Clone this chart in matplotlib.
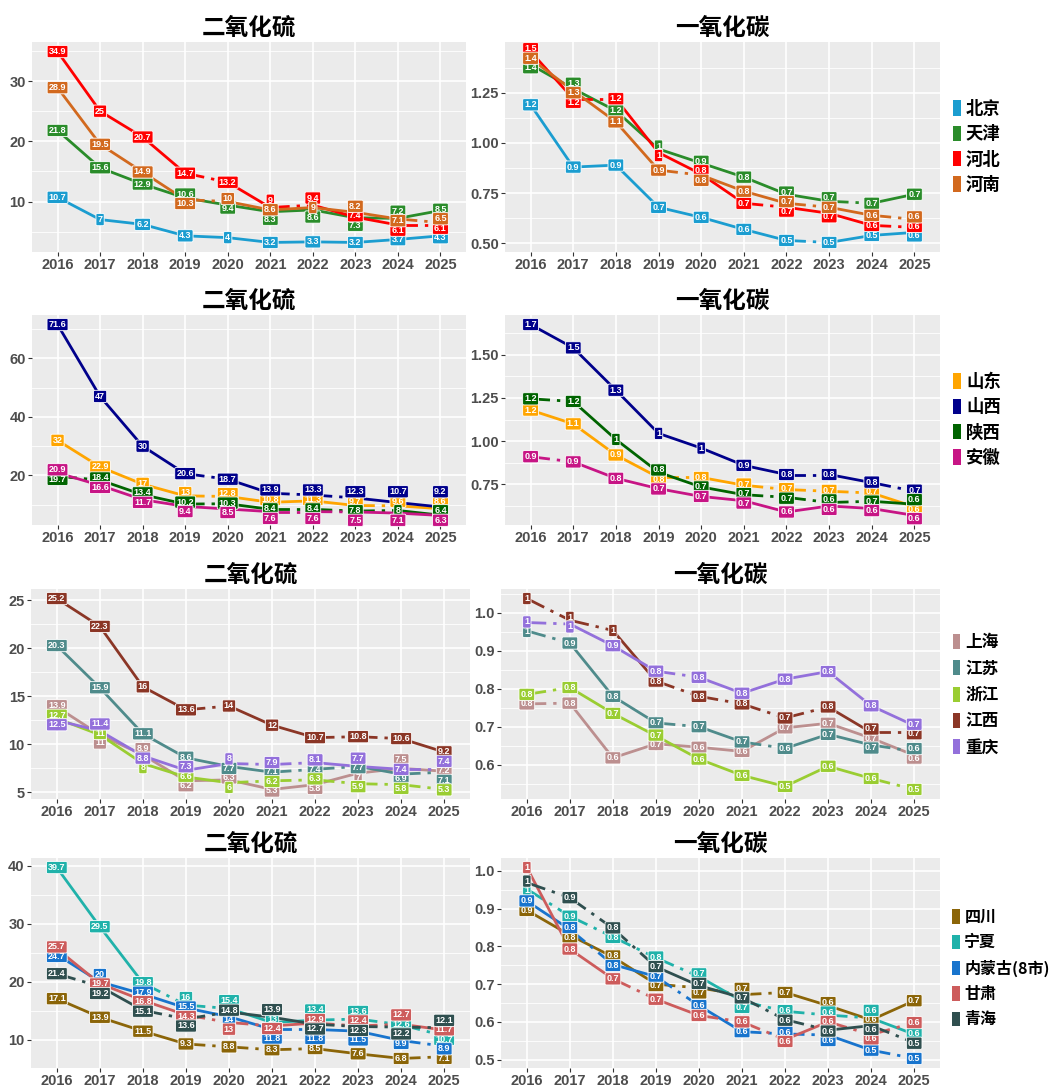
import matplotlib
matplotlib.use("Agg")
import matplotlib.pyplot as plt
from matplotlib.patches import Patch

plt.rcParams['font.family'] = ['Liberation Sans', 'Noto Sans CJK SC', 'DejaVu Sans']

years = list(range(2016, 2026))

# ---- row 1 ----
row1_names = ["北京", "天津", "河北", "河南"]
row1_colors = ["#1b9dd0", "#2a8c2a", "#ff0000", "#d2691e"]
row1_so2 = [
    [10.7, 7, 6.2, 4.3, 4, 3.2, 3.3, 3.2, 3.7, 4.3],
    [21.8, 15.6, 12.9, 10.6, 9.4, 8.3, 8.6, 7.3, 7.2, 8.5],
    [34.9, 25, 20.7, 14.7, 13.2, 9, 9.4, 7.4, 6.1, 6.1],
    [28.9, 19.5, 14.9, 10.3, 10, 8.6, 9, 8.2, 7.1, 6.5],
]
row1_co = [
    [1.19, 0.88, 0.89, 0.68, 0.63, 0.57, 0.515, 0.505, 0.54, 0.555],
    [1.39, 1.27, 1.16, 0.97, 0.90, 0.83, 0.745, 0.71, 0.70, 0.745],
    [1.455, 1.22, 1.22, 0.952, 0.845, 0.70, 0.68, 0.65, 0.59, 0.58],
    [1.42, 1.26, 1.105, 0.865, 0.84, 0.76, 0.70, 0.68, 0.64, 0.62],
]
row1_so2_dash = [[], [], [3, 5, 8], [3, 8]]
row1_co_dash = [[6], [7], [1, 5, 8], [3, 6, 8]]
row1_so2_ticks = [10, 20, 30]
row1_co_ticks = [0.50, 0.75, 1.00, 1.25]

# ---- row 2 ----
row2_names = ["山东", "山西", "陕西", "安徽"]
row2_colors = ["#ffa500", "#00008b", "#006400", "#c71585"]
row2_so2 = [
    [32, 22.9, 17, 13, 12.8, 10.8, 11.3, 9.7, 9.6, 8.6],
    [71.6, 47, 30, 20.6, 18.7, 13.9, 13.3, 12.3, 10.7, 9.2],
    [19.7, 18.4, 13.4, 10.2, 10.3, 8.4, 8.4, 7.8, 8, 6.4],
    [20.9, 16.6, 11.7, 9.4, 8.5, 7.6, 7.6, 7.5, 7.1, 6.3],
]
row2_co = [
    [1.18, 1.10, 0.92, 0.79, 0.79, 0.745, 0.72, 0.71, 0.70, 0.62],
    [1.675, 1.54, 1.295, 1.045, 0.96, 0.86, 0.807, 0.807, 0.76, 0.71],
    [1.245, 1.23, 1.01, 0.82, 0.735, 0.69, 0.675, 0.645, 0.652, 0.635],
    [0.91, 0.88, 0.785, 0.725, 0.68, 0.655, 0.59, 0.625, 0.61, 0.57],
]
row2_so2_dash = [[3, 7], [3, 5, 6], [0, 3, 5, 6, 7], [5, 6]]
row2_co_dash = [[3, 5, 6, 7], [6, 8], [0, 5, 6, 7], [0]]
row2_so2_ticks = [20, 40, 60]
row2_co_ticks = [0.75, 1.00, 1.25, 1.50]

# ---- row 3 ----
row3_names = ["上海", "江苏", "浙江", "江西", "重庆"]
row3_colors = ["#bc8f8f", "#4f8b8b", "#9acd32", "#8b3626", "#9370db"]
row3_so2 = [
    [13.9, 11, 8.9, 6.2, 6.3, 5.3, 5.8, 7, 7.5, 7.2],
    [20.3, 15.9, 11.1, 8.6, 7.7, 7.1, 7.4, 7.7, 6.9, 7.1],
    [12.7, 11, 8, 6.6, 6, 6.2, 6.3, 5.9, 5.8, 5.3],
    [25.2, 22.3, 16, 13.6, 14, 12, 10.7, 10.8, 10.6, 9.2],
    [12.5, 11.4, 8.8, 7.3, 8, 7.9, 8.1, 7.7, 7.4, 7.4],
]
row3_co = [
    [0.76, 0.762, 0.618, 0.655, 0.646, 0.635, 0.697, 0.709, 0.67, 0.625],
    [0.952, 0.92, 0.78, 0.71, 0.70, 0.66, 0.643, 0.68, 0.652, 0.635],
    [0.785, 0.803, 0.735, 0.676, 0.615, 0.572, 0.543, 0.596, 0.564, 0.535],
    [1.037, 0.98, 0.953, 0.82, 0.78, 0.76, 0.723, 0.752, 0.685, 0.685],
    [0.974, 0.97, 0.913, 0.846, 0.83, 0.788, 0.825, 0.845, 0.755, 0.703],
]
row3_so2_dash = [[], [5, 6, 8], [4, 5, 6, 7, 8], [3, 6, 7], [4, 5, 8]]
row3_co_dash = [[0], [0, 3, 5, 8], [0, 8], [0, 1, 3, 4, 5, 6, 8], [0, 3]]
row3_so2_ticks = [5, 10, 15, 20, 25]
row3_co_ticks = [0.6, 0.7, 0.8, 0.9, 1.0]

# ---- row 4 ----
row4_names = ["四川", "宁夏", "内蒙古(8市)", "甘肃", "青海"]
row4_colors = ["#8b6508", "#20b2aa", "#1874cd", "#cd5c5c", "#2f4f4f"]
row4_so2 = [
    [17.1, 13.9, 11.5, 9.3, 8.8, 8.3, 8.5, 7.6, 6.8, 7.1],
    [39.7, 29.5, 19.8, 16, 15.4, 13, 13.4, 13.6, 12.6, 10.7],
    [24.7, 20, 17.9, 15.5, 14, 11.8, 11.8, 11.5, 9.9, 8.9],
    [25.7, 19.7, 16.8, 14.3, 13, 12.4, 12.9, 12.4, 12.7, 11.7],
    [21.4, 19.2, 15.1, 13.6, 14.8, 13.9, 12.7, 12.3, 12.2, 12.1],
]
row4_co = [
    [0.896, 0.83, 0.772, 0.70, 0.69, 0.672, 0.678, 0.643, 0.605, 0.656],
    [0.952, 0.88, 0.825, 0.77, 0.72, 0.655, 0.628, 0.618, 0.61, 0.567],
    [0.92, 0.845, 0.752, 0.72, 0.643, 0.574, 0.568, 0.565, 0.525, 0.503],
    [1.009, 0.793, 0.714, 0.66, 0.617, 0.60, 0.553, 0.60, 0.566, 0.598],
    [0.969, 0.929, 0.848, 0.746, 0.696, 0.664, 0.606, 0.578, 0.59, 0.545],
]
row4_so2_dash = [[3, 4, 5, 8], [2, 3, 6, 7, 8], [5, 8], [3, 4, 6, 7], [0, 2, 3, 6, 7, 8]]
row4_co_dash = [[3, 4, 5], [0, 1, 2, 3, 5, 6, 7], [1, 3, 5, 6, 8], [2, 4, 5, 7, 8], [0, 1, 2, 5, 6, 8]]
row4_so2_ticks = [10, 20, 30, 40]
row4_co_ticks = [0.5, 0.6, 0.7, 0.8, 0.9, 1.0]

rows = [
    (row1_names, row1_colors, row1_so2, row1_co, row1_so2_dash, row1_co_dash, row1_so2_ticks, row1_co_ticks, "{:.2f}"),
    (row2_names, row2_colors, row2_so2, row2_co, row2_so2_dash, row2_co_dash, row2_so2_ticks, row2_co_ticks, "{:.2f}"),
    (row3_names, row3_colors, row3_so2, row3_co, row3_so2_dash, row3_co_dash, row3_so2_ticks, row3_co_ticks, "{:.1f}"),
    (row4_names, row4_colors, row4_so2, row4_co, row4_so2_dash, row4_co_dash, row4_so2_ticks, row4_co_ticks, "{:.1f}"),
]

W, H = 1058, 1090
row_tops = [42, 315, 589, 858]
row_h = 210
left_x = [(32, 466), (32, 466), (31, 470), (31, 470)]
right_x = [(505, 940), (505, 940), (501, 940), (501, 940)]
legend_cy = [147, 420, 695, 968]
legend_size = [12.5, 12.5, 12, 11.5]
legend_gap = [0.42, 0.42, 0.5, 0.58]

dash_style = (0, (7, 2.5, 1.2, 2.5))


def fmt_label(v):
    r = round(v, 1)
    if r == int(r):
        return str(int(r))
    return "{:.1f}".format(r)


def spread(vals, gap, lo, hi):
    order = sorted(range(len(vals)), key=lambda k: vals[k])
    pos = [vals[k] for k in order]
    for _ in range(60):
        for j in range(len(pos) - 1):
            d = pos[j + 1] - pos[j]
            if d < gap:
                s = (gap - d) / 2
                pos[j] -= s
                pos[j + 1] += s
        if pos[0] < lo:
            pos[0] = lo
        if pos[-1] > hi:
            pos[-1] = hi
    out = [0] * len(vals)
    for j, k in enumerate(order):
        out[k] = pos[j]
    return out


def draw_panel(ax, title, series, colors, dashes, ticks, tickfmt, px_h):
    xs = list(range(1, len(years) + 1))
    allv = [v for s in series for v in s]
    lo, hi = min(allv), max(allv)
    rng = hi - lo
    ylo, yhi = lo - 0.05 * rng, hi + 0.05 * rng
    ax.set_xlim(0.4, len(years) + 0.6)
    ax.set_ylim(ylo, yhi)
    ax.set_facecolor("#ebebeb")
    for sp in ax.spines.values():
        sp.set_visible(False)
    step = ticks[1] - ticks[0]
    minors = [t - step / 2 for t in ticks] + [ticks[-1] + step / 2]
    minors = [m for m in minors if ylo < m < yhi]
    for m in minors:
        ax.axhline(m, color="white", lw=0.6, zorder=0)
    for t in ticks:
        ax.axhline(t, color="white", lw=1.2, zorder=0)
    for x in xs:
        ax.axvline(x, color="white", lw=1.2, zorder=0)
    ax.set_yticks(ticks)
    ax.set_yticklabels([tickfmt.format(t) for t in ticks])
    ax.set_xticks(xs)
    ax.set_xticklabels([str(y) for y in years])
    ax.tick_params(axis="both", colors="#333333", length=3, width=0.8, pad=1.5)
    for lab in ax.get_xticklabels() + ax.get_yticklabels():
        lab.set_color("#4d4d4d")
        lab.set_fontweight("bold")
        lab.set_fontsize(10.5)
    ax.set_title(title, fontsize=17, fontweight="bold", pad=5,
                 family=['Noto Sans CJK SC', 'DejaVu Sans'])

    for s, c, dl in zip(series, colors, dashes):
        for i in range(len(s) - 1):
            if i in dl:
                ax.plot(xs[i:i + 2], s[i:i + 2], color=c, lw=2, ls=dash_style,
                        dash_capstyle="butt", zorder=2)
            else:
                ax.plot(xs[i:i + 2], s[i:i + 2], color=c, lw=2, ls="-",
                        solid_capstyle="round", zorder=2)

    gap = 9.5 / px_h * (yhi - ylo)
    for i, x in enumerate(xs):
        vals = [s[i] for s in series]
        pos = spread(vals, gap, ylo + gap / 2, yhi - gap / 2)
        for s, c, p in zip(series, colors, pos):
            ax.text(x, p, fmt_label(s[i]), ha="center", va="center",
                    fontsize=6.5, fontweight="bold", color="white", zorder=4,
                    bbox=dict(boxstyle="round,pad=0.18,rounding_size=0.15",
                              fc=c, ec="white", lw=0.6))


fig = plt.figure(figsize=(W / 100, H / 100), dpi=100)
fig.patch.set_facecolor("white")

for r, (names, colors, so2, co, so2_d, co_d, so2_t, co_t, cofmt) in enumerate(rows):
    top = row_tops[r]
    b = 1 - (top + row_h) / H
    h = row_h / H
    lx0, lx1 = left_x[r]
    rx0, rx1 = right_x[r]
    axl = fig.add_axes([lx0 / W, b, (lx1 - lx0) / W, h])
    axr = fig.add_axes([rx0 / W, b, (rx1 - rx0) / W, h])
    draw_panel(axl, "二氧化硫", so2, colors, so2_d, so2_t, "{:g}", row_h)
    draw_panel(axr, "一氧化碳", co, colors, co_d, co_t, cofmt, row_h)

    handles = [Patch(facecolor=c, edgecolor="none") for c in colors]
    fig.legend(handles, names, loc="center left",
               bbox_to_anchor=(946 / W, 1 - legend_cy[r] / H),
               frameon=False, handlelength=0.45, handleheight=1.0,
               handletextpad=0.3, labelspacing=legend_gap[r], borderaxespad=0,
               prop=dict(family=['Noto Sans CJK SC', 'DejaVu Sans'],
                         weight="bold", size=legend_size[r]))

fig.savefig("out.png", dpi=100, facecolor="white")
